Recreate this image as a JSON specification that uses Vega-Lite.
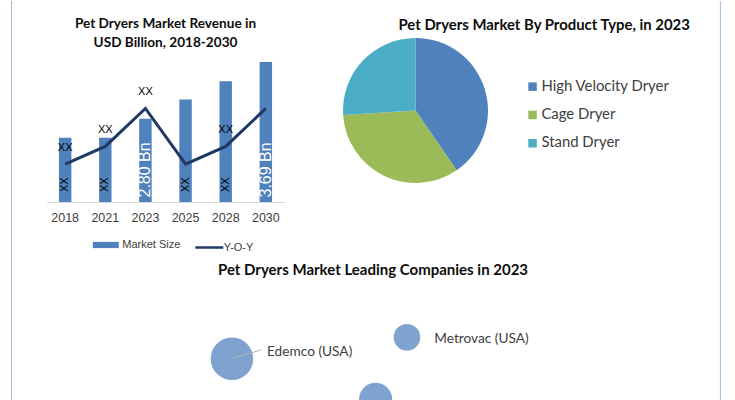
{
  "$schema": "https://vega.github.io/schema/vega-lite/v6.json",
  "padding": {"left": 10.5, "top": 0, "right": 0, "bottom": 0},
  "background": "white",
  "config": {
    "view": {"stroke": null},
    "font": "Lato",
    "title": {"font": "Lato", "fontWeight": "bold", "color": "#0d0d0d", "fontSize": 14}
  },
  "bounds": "flush",
  "spacing": 247.5,
  "resolve": {
    "scale": {"color": "independent", "stroke": "independent", "size": "independent", "theta": "independent", "x": "independent", "y": "independent"},
    "legend": {"color": "independent", "stroke": "independent"}
  },
  "vconcat": [
    {
      "bounds": "flush",
      "spacing": 58.5,
      "resolve": {
        "scale": {"color": "independent", "stroke": "independent", "theta": "independent", "x": "independent", "y": "independent"},
        "legend": {"color": "independent", "stroke": "independent"}
      },
      "hconcat": [
        {
          "width": 238,
          "height": 164,
          "title": {
            "text": ["Pet Dryers Market Revenue in", "USD Billion, 2018-2030"],
            "fontSize": 13.6,
            "lineHeight": 18.5,
            "anchor": "middle",
            "offset": -11.5
          },
          "data": {
            "values": [
              {"year": "2018", "size": 2.50, "yoy": 2.0, "bar_label": "XX", "yoy_label": "XX"},
              {"year": "2021", "size": 2.50, "yoy": 2.94, "bar_label": "XX", "yoy_label": "XX"},
              {"year": "2023", "size": 2.80, "yoy": 4.95, "bar_label": "2.80 Bn", "yoy_label": "XX"},
              {"year": "2025", "size": 3.10, "yoy": 2.0, "bar_label": "XX", "yoy_label": null},
              {"year": "2028", "size": 3.39, "yoy": 2.94, "bar_label": "XX", "yoy_label": "XX"},
              {"year": "2030", "size": 3.69, "yoy": 4.95, "bar_label": "3.69 Bn", "yoy_label": null}
            ]
          },
          "encoding": {
            "x": {
              "field": "year",
              "type": "ordinal",
              "scale": {"paddingInner": 0.69, "paddingOuter": 0.31},
              "axis": {
                "title": null,
                "labelAngle": 0,
                "ticks": false,
                "grid": false,
                "domainColor": "#d9d9d9",
                "labelFont": "Liberation Sans",
                "labelFontSize": 12.5,
                "labelColor": "#404040",
                "labelPadding": 9
              }
            }
          },
          "layer": [
            {
              "layer": [
                {
                  "mark": {"type": "bar"},
                  "encoding": {
                    "y": {"field": "size", "type": "quantitative", "scale": {"domain": [1.49, 4.069], "zero": false, "nice": false}, "axis": null},
                    "y2": {"datum": 1.49},
                    "color": {
                      "datum": "Market Size",
                      "scale": {"range": ["#4f81bd"]},
                      "legend": {
                        "orient": "none", "legendX": 46.3, "legendY": 194, "title": null, "padding": 0,
                        "symbolType": "M-1,-0.24H1V0.24H-1Z", "symbolSize": 676, "symbolStrokeWidth": 0,
                        "labelFont": "Liberation Sans", "labelFontSize": 11, "labelColor": "#404040", "labelOffset": 3.5
                      }
                    }
                  }
                },
                {
                  "transform": [{"filter": "datum.bar_label === 'XX'"}],
                  "mark": {"type": "text", "angle": 270, "align": "left", "baseline": "middle", "dx": 10, "font": "Liberation Sans", "fontSize": 11, "color": "#000000"},
                  "encoding": {"y": {"datum": 1.49}, "text": {"field": "bar_label"}}
                },
                {
                  "transform": [{"filter": "datum.bar_label !== 'XX'"}],
                  "mark": {"type": "text", "angle": 270, "align": "left", "baseline": "middle", "dx": 4.5, "font": "Liberation Sans", "fontSize": 16, "color": "#ffffff"},
                  "encoding": {"y": {"datum": 1.49}, "text": {"field": "bar_label"}}
                }
              ]
            },
            {
              "layer": [
                {
                  "mark": {"type": "line", "strokeWidth": 3},
                  "encoding": {
                    "y": {"field": "yoy", "type": "quantitative", "scale": {"domain": [0, 8.677], "nice": false}, "axis": null},
                    "stroke": {
                      "datum": "Y-O-Y",
                      "scale": {"range": ["#1f3864"]},
                      "legend": {
                        "orient": "none", "legendX": 147.3, "legendY": 194, "title": null, "padding": 0,
                        "symbolType": "stroke", "symbolSize": 784, "symbolStrokeWidth": 2.5,
                        "labelFont": "Liberation Sans", "labelFontSize": 11, "labelColor": "#404040", "labelOffset": -1
                      }
                    }
                  }
                },
                {
                  "transform": [{"filter": "datum.yoy_label != null"}],
                  "mark": {"type": "text", "dy": -16, "font": "Liberation Sans", "fontSize": 11, "color": "#000000"},
                  "encoding": {"y": {"field": "yoy", "type": "quantitative"}, "text": {"field": "yoy_label"}}
                }
              ]
            }
          ],
          "resolve": {"scale": {"y": "independent"}}
        },
        {
          "width": 145,
          "height": 145,
          "title": {
            "text": "Pet Dryers Market By Product Type, in 2023",
            "fontSize": 14.9,
            "anchor": "start",
            "dx": 55.5,
            "offset": 5
          },
          "data": {
            "values": [
              {"type": "High Velocity Dryer", "share": 40.4},
              {"type": "Cage Dryer", "share": 33.6},
              {"type": "Stand Dryer", "share": 26.0}
            ]
          },
          "mark": {"type": "arc", "outerRadius": 72.5},
          "encoding": {
            "theta": {"field": "share", "type": "quantitative", "stack": true},
            "order": {"field": "share", "sort": "descending"},
            "color": {
              "field": "type",
              "type": "nominal",
              "scale": {"domain": ["High Velocity Dryer", "Cage Dryer", "Stand Dryer"], "range": ["#4f81bd", "#9bbb59", "#4bacc6"]},
              "legend": {
                "orient": "none", "legendX": 182.1, "legendY": 41.2, "title": null, "padding": 0,
                "symbolType": "square", "symbolSize": 72, "symbolStrokeWidth": 0,
                "labelFont": "Lato", "labelFontSize": 14.9, "labelColor": "#404040", "labelOffset": 1.4, "rowPadding": 12.3
              }
            }
          }
        }
      ]
    },
    {
      "width": 653,
      "height": 115,
      "title": {
        "text": "Pet Dryers Market Leading Companies in 2023",
        "fontSize": 15,
        "anchor": "middle",
        "offset": -277.5
      },
      "data": {
        "values": [
          {"company": "Edemco (USA)", "x": 28.4, "y": 36.3, "size": 100},
          {"company": "Metrovac (USA)", "x": 55.2, "y": 55.0, "size": 39},
          {"company": "Other", "x": 50.4, "y": 0.9, "size": 61}
        ]
      },
      "layer": [
        {
          "data": {"values": [{"edge": -5.36}, {"edge": 103.2}]},
          "mark": {"type": "rule", "color": "#9fbde0", "strokeWidth": 1},
          "encoding": {
            "x": {"field": "edge", "type": "quantitative", "scale": {"domain": [0, 100], "nice": false, "zero": false}, "axis": null},
            "y": {"datum": 0.435, "scale": {"domain": [0, 100], "nice": false}, "axis": null},
            "y2": {"datum": 347.4}
          }
        },
        {
          "mark": {"type": "circle", "opacity": 1, "color": "#7ea3ce", "clip": true},
          "encoding": {
            "x": {"field": "x", "type": "quantitative"},
            "y": {"field": "y", "type": "quantitative"},
            "size": {"field": "size", "type": "quantitative", "scale": {"domain": [0, 100], "range": [0, 1810]}, "legend": null}
          }
        },
        {
          "transform": [{"filter": "datum.company === 'Edemco (USA)'"}],
          "mark": {"type": "rule", "color": "#b4b4b4", "strokeWidth": 1},
          "encoding": {
            "x": {"field": "x", "type": "quantitative"},
            "y": {"field": "y", "type": "quantitative"},
            "x2": {"datum": 32.9},
            "y2": {"datum": 44.1}
          }
        },
        {
          "transform": [{"filter": "datum.company === 'Edemco (USA)'"}],
          "mark": {"type": "text", "align": "left", "baseline": "middle", "dx": 35, "dy": -6.6, "font": "Lato", "fontSize": 13.7, "color": "#404040"},
          "encoding": {
            "x": {"field": "x", "type": "quantitative"},
            "y": {"field": "y", "type": "quantitative"},
            "text": {"field": "company"}
          }
        },
        {
          "transform": [{"filter": "datum.company === 'Metrovac (USA)'"}],
          "mark": {"type": "text", "align": "left", "baseline": "middle", "dx": 27.3, "dy": 1.6, "font": "Lato", "fontSize": 13.7, "color": "#404040"},
          "encoding": {
            "x": {"field": "x", "type": "quantitative"},
            "y": {"field": "y", "type": "quantitative"},
            "text": {"field": "company"}
          }
        }
      ]
    }
  ]
}
